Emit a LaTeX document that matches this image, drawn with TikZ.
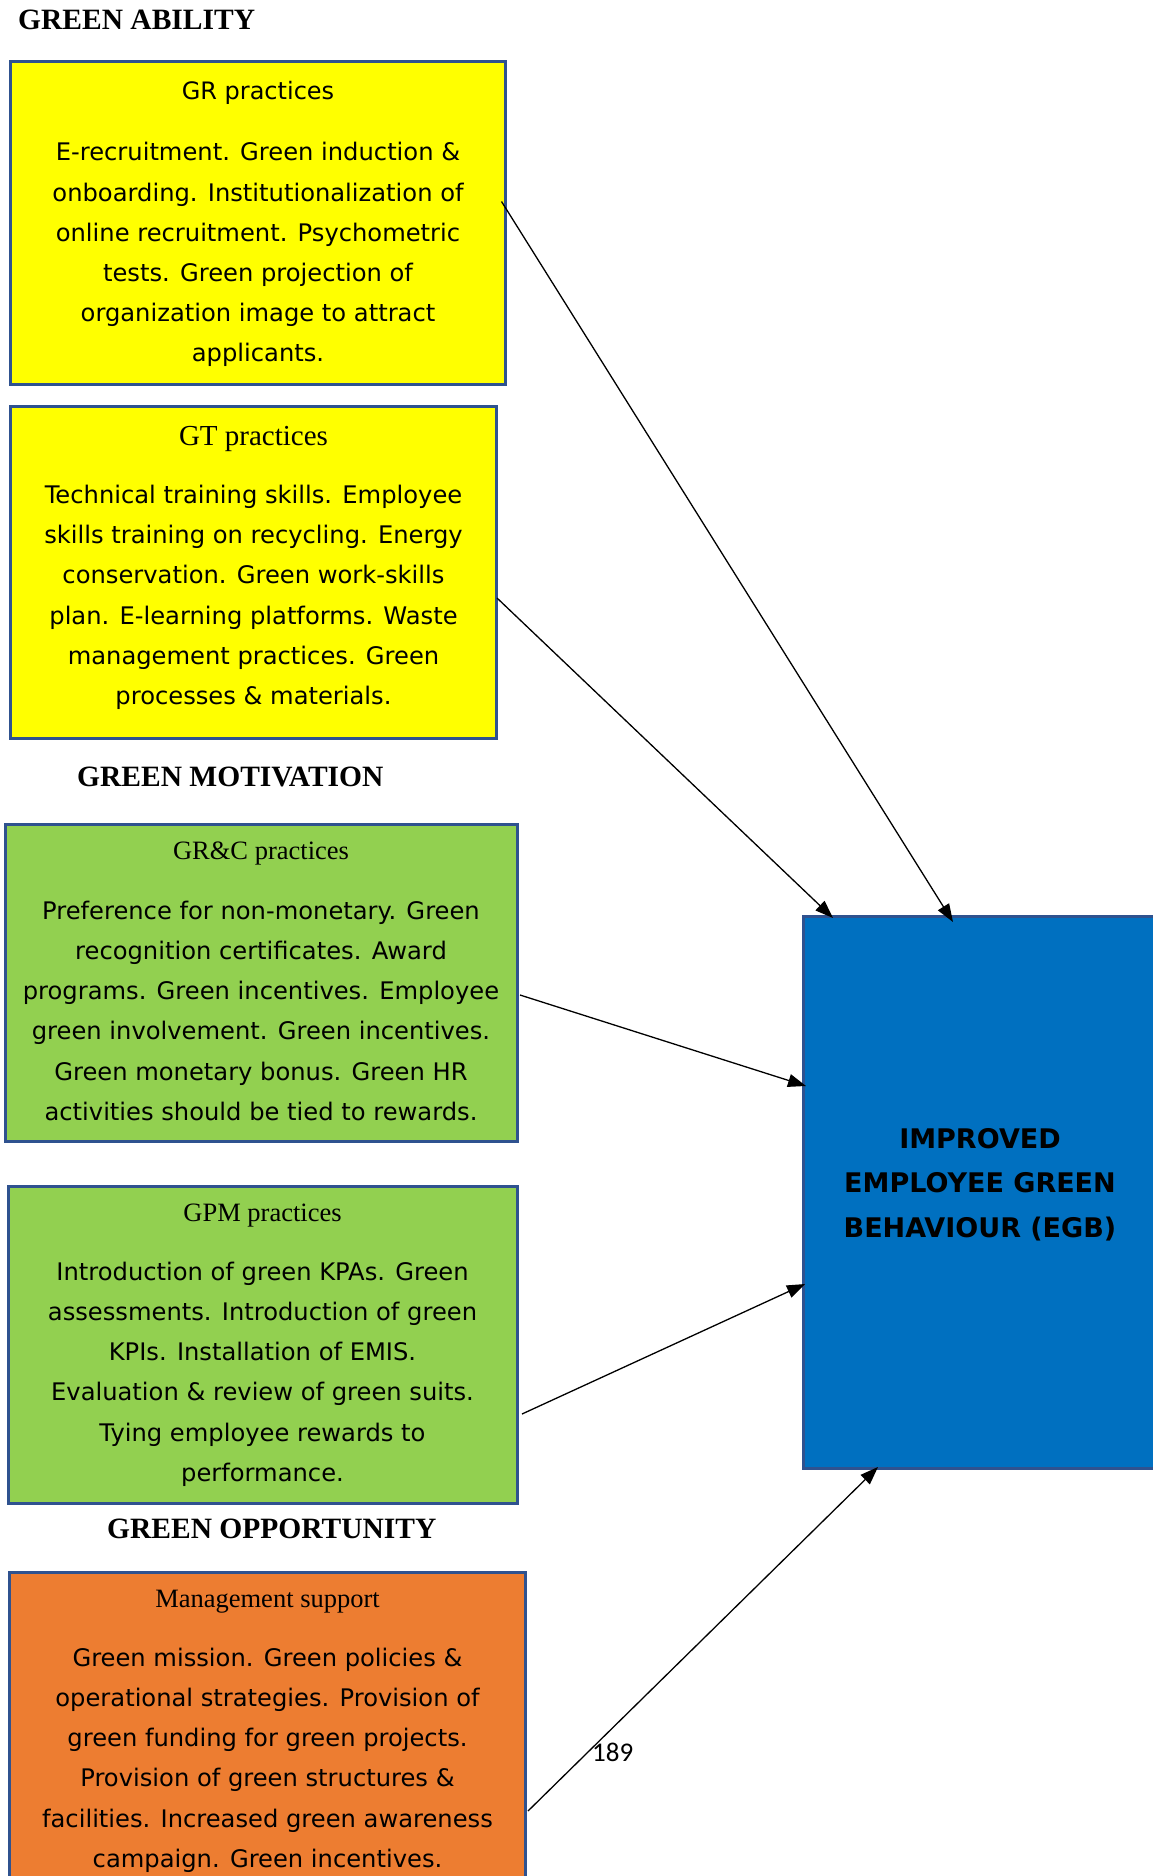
\documentclass[tikz,border=0pt]{standalone}
\usepackage{fontspec}
\setmainfont{Liberation Serif}
\newfontfamily\bodyfont{DejaVu Sans}
\newfontfamily\numfont{Carlito}
\usetikzlibrary{arrows.meta}
\definecolor{boxline}{HTML}{2F528F}
\definecolor{ylw}{HTML}{FFFF00}
\definecolor{grn}{HTML}{92D050}
\definecolor{org}{HTML}{ED7D31}
\definecolor{blu}{HTML}{0070C0}
\begin{document}
\begin{tikzpicture}[x=1pt,y=-1pt,
  panel/.style={draw=boxline, line width=3pt, inner sep=0pt, outer sep=0pt, rectangle},
  section/.style={font=\fontsize{29.5}{33}\selectfont\bfseries, anchor=base west, inner sep=0pt},
  serifhead/.style={font=\fontsize{26.5}{30}\selectfont, anchor=base, inner sep=0pt},
  sanshead/.style={font=\bodyfont\fontsize{24}{30}\selectfont, anchor=base, inner sep=0pt},
  bodytext/.style={font=\bodyfont\fontsize{24.2}{40.2}\selectfont, align=center, anchor=north, inner sep=0pt},
  outcome/.style={font=\bodyfont\bfseries\fontsize{27}{44.5}\selectfont, align=center, anchor=north, inner sep=0pt},
  link/.style={line width=1.3pt, -{Triangle[length=18pt,width=13pt]}}
]
\useasboundingbox (0,0) rectangle (1152,1876);

% section headings
\node[section] (hability) at (18,30) {GREEN ABILITY};
\node[section] (hmotiv) at (77,786.5) {GREEN MOTIVATION};
\node[section] (hopport) at (107,1538) {GREEN OPPORTUNITY};

% practice panels
\node[panel, fill=ylw, minimum width=495pt, minimum height=323pt] (gr) at (258,223) {};
\node[panel, fill=ylw, minimum width=486pt, minimum height=332pt] (gt) at (253.5,572.5) {};
\node[panel, fill=grn, minimum width=512pt, minimum height=317pt] (grc) at (261.5,983) {};
\node[panel, fill=grn, minimum width=509pt, minimum height=317pt] (gpm) at (263,1345) {};
\node[panel, fill=org, minimum width=516pt, minimum height=327.5pt] (ms) at (267.5,1736.25) {};

% outcome panel
\node[panel, fill=blu, minimum width=353pt, minimum height=552pt] (egb) at (980,1192.5) {};

% panel texts
\node[sanshead] (grhead) at (258,99.3) {GR practices};
\node[bodytext] (grbody) at (258,132.6) {\strut E-recruitment. Green induction \&\\
onboarding. Institutionalization of\\
online recruitment. Psychometric\\
tests. Green projection of\\
organization image to attract\\
applicants.};

\node[serifhead, font=\fontsize{29}{32}\selectfont] (gthead) at (253.5,445) {GT practices};
\node[bodytext] (gtbody) at (253.5,475.2) {\strut Technical training skills. Employee\\
skills training on recycling. Energy\\
conservation. Green work-skills\\
plan. E-learning platforms. Waste\\
management practices. Green\\
processes \& materials.};

\node[serifhead] (grchead) at (261,859) {GR\&C practices};
\node[bodytext] (grcbody) at (261,890.9) {\strut Preference for non-monetary. Green\\
recognition certificates. Award\\
programs. Green incentives. Employee\\
green involvement. Green incentives.\\
Green monetary bonus. Green HR\\
activities should be tied to rewards.};

\node[serifhead] (gpmhead) at (262.5,1221.7) {GPM practices};
\node[bodytext] (gpmbody) at (262.5,1251.9) {\strut Introduction of green KPAs. Green\\
assessments. Introduction of green\\
KPIs. Installation of EMIS.\\
Evaluation \& review of green suits.\\
Tying employee rewards to\\
performance.};

\node[serifhead] (mshead) at (267.5,1607.7) {Management support};
\node[bodytext] (msbody) at (267.5,1637.9) {\strut Green mission. Green policies \&\\
operational strategies. Provision of\\
green funding for green projects.\\
Provision of green structures \&\\
facilities. Increased green awareness\\
campaign. Green incentives.};

\node[outcome] (egbtext) at (980,1116.85) {\strut IMPROVED\\
EMPLOYEE GREEN\\
BEHAVIOUR (EGB)};

% connectors into the outcome panel
\draw[link] ([shift={(-4,140)}]gr.north east) -- ([shift={(149.5,5.5)}]egb.north west);
\draw[link] ([shift={(0.5,191.5)}]gt.north east) -- ([shift={(29.5,1.5)}]egb.north west);
\draw[link] ([shift={(2.5,170.5)}]grc.north east) -- ([shift={(2.5,169.5)}]egb.north west);
\draw[link] ([shift={(4.5,227.5)}]gpm.north east) -- ([shift={(1.5,367.5)}]egb.north west);
\draw[link] ([shift={(2.5,238.5)}]ms.north east) -- ([shift={(74.5,-1.5)}]egb.south west);

% page number
\node[font=\numfont\fontsize{27}{30}\selectfont, anchor=base west, inner sep=0pt] (pnum) at (592,1761.7) {189};
\end{tikzpicture}
\end{document}
